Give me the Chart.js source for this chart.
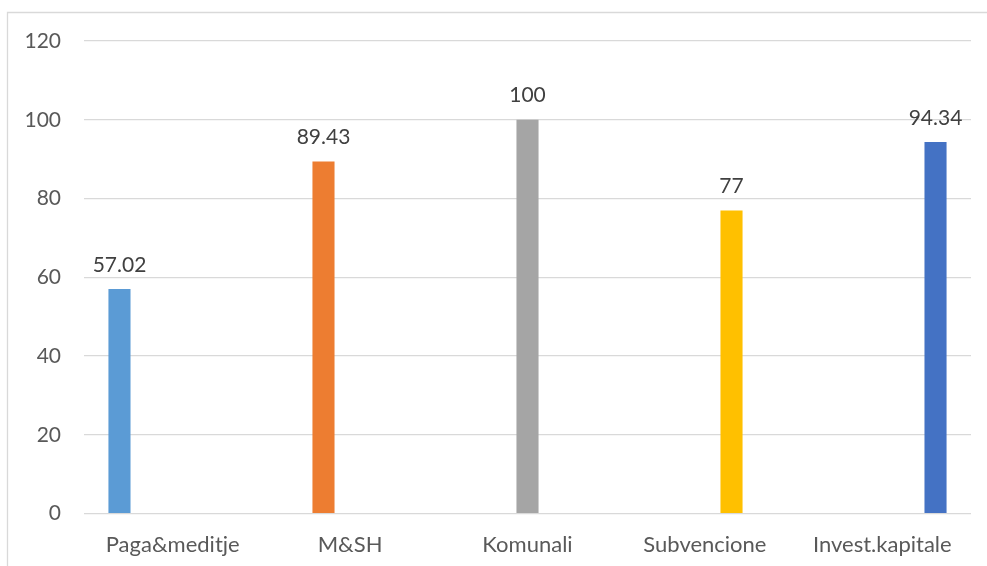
<!DOCTYPE html>
<html>
<head>
<meta charset="utf-8">
<script src="https://cdn.jsdelivr.net/npm/chart.js@4"></script>
<style>
  html, body { margin: 0; padding: 0; background: #ffffff; }
  #wrap { width: 987px; height: 566px; position: relative; }
</style>
</head>
<body>
<div id="wrap"><canvas id="c" width="987" height="566"></canvas></div>
<script>
const categories = ["Paga&meditje", "M&SH", "Komunali", "Subvencione", "Invest.kapitale"];
const values = [57.02, 89.43, 100, 77, 94.34];
const valueLabels = ["57.02", "89.43", "100", "77", "94.34"];
const colors = ["#5B9BD5", "#ED7D31", "#A5A5A5", "#FFC000", "#4472C4"];
const yTicks = [0, 20, 40, 60, 80, 100, 120];

const FONT = "Lato, 'Open Sans', sans-serif";

const datasets = categories.map((cat, i) => ({
  label: cat,
  data: categories.map((_, j) => (j === i ? values[i] : null)),
  backgroundColor: colors[i],
  borderWidth: 0,
  categoryPercentage: 0.75,
  barPercentage: 0.83
}));

const frame = {
  id: 'frame',
  beforeDraw(chart) {
    const ctx = chart.ctx;
    ctx.save();
    ctx.fillStyle = '#ffffff';
    ctx.fillRect(0, 0, chart.width, chart.height);
    ctx.strokeStyle = '#d9d9d9';
    ctx.lineWidth = 1.3;
    ctx.beginPath();
    ctx.moveTo(7.5, chart.height);
    ctx.lineTo(7.5, 12.5);
    ctx.lineTo(chart.width, 12.5);
    ctx.stroke();
    ctx.restore();
  }
};

const valueLabelPlugin = {
  id: 'valueLabels',
  afterDatasetsDraw(chart) {
    const ctx = chart.ctx;
    ctx.save();
    ctx.font = "21px " + FONT;
    ctx.fillStyle = '#404040';
    ctx.textAlign = 'center';
    ctx.textBaseline = 'alphabetic';
    chart.data.datasets.forEach((ds, i) => {
      const meta = chart.getDatasetMeta(i);
      meta.data.forEach((el, j) => {
        if (ds.data[j] === null) return;
        ctx.fillText(valueLabels[i], el.x, el.y - 17.5);
      });
    });
    ctx.restore();
  }
};

new Chart(document.getElementById('c'), {
  type: 'bar',
  data: { labels: categories, datasets: datasets },
  options: {
    responsive: false,
    animation: false,
    devicePixelRatio: 1,
    layout: { padding: { top: 41, right: 16, left: 0, bottom: 0 } },
    plugins: { legend: { display: false }, tooltip: { enabled: false } },
    scales: {
      x: {
        grid: { display: false, drawTicks: false },
        border: { display: false },
        ticks: { color: '#595959', font: { family: FONT, size: 22 }, padding: 18, maxRotation: 0, autoSkip: false },
        afterFit(scale) { scale.height = 52.3; }
      },
      y: {
        min: 0, max: 120,
        afterBuildTicks(scale) { scale.ticks = yTicks.map(v => ({ value: v })); },
        grid: { color: '#d9d9d9', lineWidth: 1.3, drawTicks: false },
        border: { display: false },
        ticks: { color: '#595959', font: { family: FONT, size: 21 }, padding: 23 },
        afterFit(scale) { scale.width = 84; }
      }
    }
  },
  plugins: [frame, valueLabelPlugin]
});
</script>
</body>
</html>
